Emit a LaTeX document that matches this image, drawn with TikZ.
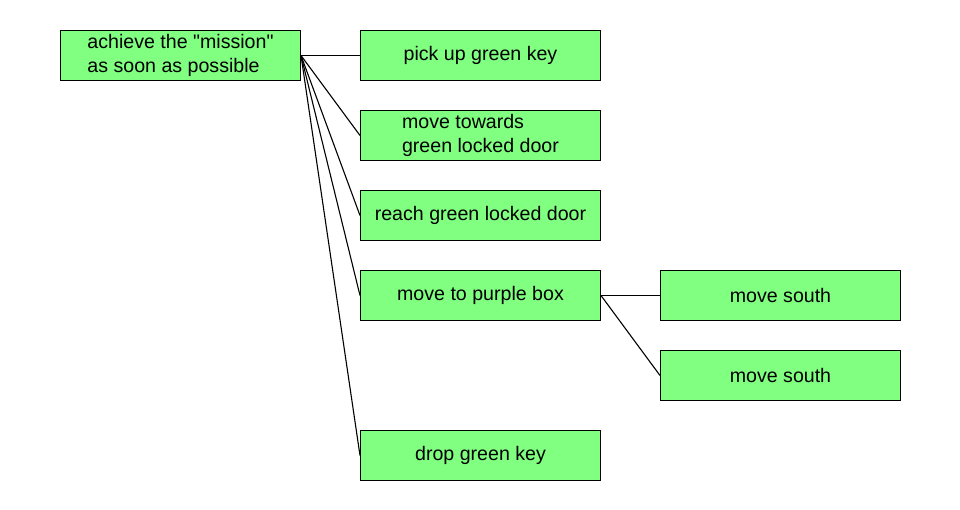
\documentclass[tikz,border=0pt]{standalone}
\usepackage{fontspec}
\setmainfont{Liberation Sans}[Ligatures=TeXOff]
\definecolor{boxgreen}{RGB}{128,255,128}
\begin{document}
\begin{tikzpicture}[x=1pt,y=-1pt,
  goalbox/.style={draw=black, fill=boxgreen, line width=1pt, minimum width=240pt, minimum height=50pt, inner sep=0pt, anchor=north west, align=left, font=\fontsize{19.6}{23.5}\selectfont},
  link/.style={draw=black, line width=1.1pt}]
\useasboundingbox (0,0) rectangle (960,510);
\node[goalbox] (root) at (60,30) {achieve the "mission"\\as soon as possible};
\node[goalbox] (c1) at (360,30) {pick up green key};
\node[goalbox] (c2) at (360,110) {move towards\\green locked door};
\node[goalbox] (c3) at (360,190) {reach green locked door};
\node[goalbox] (c4) at (360,270) {move to purple box};
\node[goalbox] (c5) at (360,430) {drop green key};
\node[goalbox] (g1) at (660,270) {move south};
\node[goalbox] (g2) at (660,350) {move south};
\foreach \c in {c1,c2,c3,c4,c5} \draw[link] (root.east) -- (\c.west);
\draw[link] (c4.east) -- (g1.west);
\draw[link] (c4.east) -- (g2.west);
\end{tikzpicture}
\end{document}
